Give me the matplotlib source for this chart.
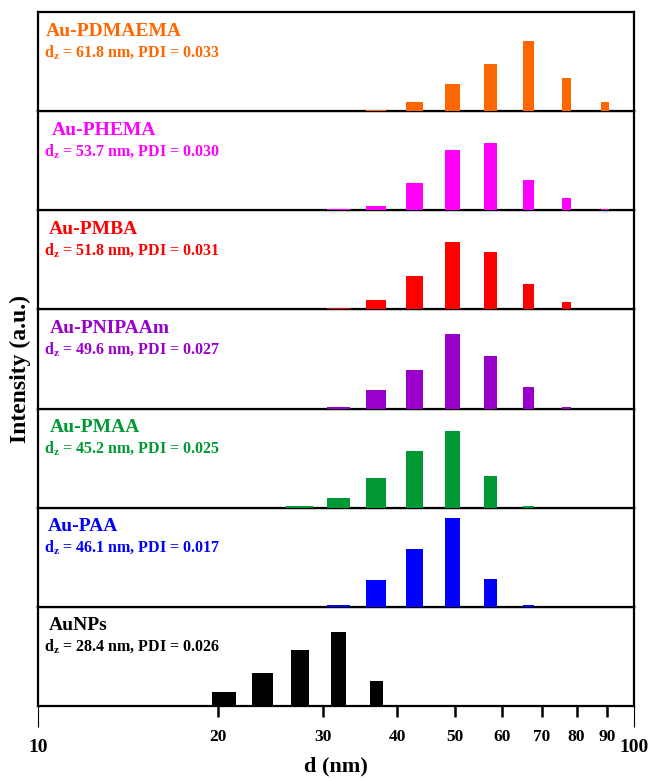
import numpy as np
import matplotlib
matplotlib.use('Agg')
import matplotlib.pyplot as plt

plt.rcParams['font.family'] = ['Liberation Serif', 'DejaVu Serif']
plt.rcParams['font.weight'] = 'bold'
plt.rcParams['mathtext.fontset'] = 'custom'
plt.rcParams['mathtext.rm'] = 'Liberation Serif:bold'
plt.rcParams['mathtext.bf'] = 'Liberation Serif:bold'
plt.rcParams['mathtext.it'] = 'Liberation Serif:bold'

# DLS size bins (nm)
d_bins = [20.5, 23.8, 27.5, 31.9, 36.9, 42.8, 49.6, 57.4, 66.5, 77.0, 89.2]

# intensity (%) per bin, bottom panel first
aunps = [6.7, 16.5, 27.7, 36.7, 12.2, 0, 0, 0, 0, 0, 0]
au_paa = [0, 0, 0, 0.9, 13.3, 29.0, 44.2, 13.7, 0.9, 0, 0]
au_pmaa = [0, 0, 0.9, 5.0, 14.8, 28.2, 38.3, 16.0, 0.9, 0, 0]
au_pnipaam = [0, 0, 0, 0.9, 9.3, 19.2, 37.0, 26.3, 11.0, 0.9, 0]
au_pmba = [0, 0, 0, 0.9, 4.5, 16.5, 33.7, 28.7, 12.8, 3.7, 0]
au_phema = [0, 0, 0, 0.9, 2.0, 13.8, 30.0, 33.8, 15.2, 6.0, 0.9]
au_pdmaema = [0, 0, 0, 0, 0.9, 4.7, 13.5, 23.7, 35.3, 16.7, 4.8]

names = ['AuNPs', 'Au-PAA', 'Au-PMAA', 'Au-PNIPAAm', 'Au-PMBA', 'Au-PHEMA', 'Au-PDMAEMA']
dz = [28.4, 46.1, 45.2, 49.6, 51.8, 53.7, 61.8]
pdi = ['0.026', '0.017', '0.025', '0.027', '0.031', '0.030', '0.033']
series = [aunps, au_paa, au_pmaa, au_pnipaam, au_pmba, au_phema, au_pdmaema]

colors = ['#000000', '#0000FF', '#009933', '#9900CC', '#FF0000', '#FF00FF', '#FF6600']
widths = [1.86, 2.85, 2.85, 2.85, 2.85, 2.85, 2.85]
name_x = [0.017, 0.016, 0.019, 0.019, 0.017, 0.022, 0.013]

fig = plt.figure(figsize=(6.51, 7.80), dpi=100)
left, width = 38.3 / 651, 596 / 651
bottom0 = 1 - 705.7 / 780
ph = 99.06 / 780

for i, (vals, name) in enumerate(zip(series, names)):
    ax = fig.add_axes([left, bottom0 + i * ph, width, ph])
    x = [d for d, v in zip(d_bins, vals) if v > 0]
    h = [v for v in vals if v > 0]
    # bars drawn over the bottom frame line, as in the original
    ax.bar(x, h, width=widths[i], color=colors[i], linewidth=0, zorder=4,
           clip_on=False)
    ax.set_xscale('log')
    ax.set_xlim(10, 100)
    ax.set_ylim(0, 49.5)
    ax.set_yticks([])
    for sp in ax.spines.values():
        sp.set_linewidth(1.6)
        sp.set_zorder(3)
    ax.text(name_x[i], 0.895, name, transform=ax.transAxes, color=colors[i],
            fontsize=14, fontweight='bold', va='top', ha='left')
    ax.text(0.01, 0.69, r'd$_{\mathrm{z}}$ = %.1f nm, PDI = %s' % (dz[i], pdi[i]),
            transform=ax.transAxes, color=colors[i], fontsize=11.5,
            fontweight='bold', va='top', ha='left')
    if i == 0:
        ax.set_xticks([10, 100])
        ax.set_xticklabels(['10', '100'], fontsize=14, fontweight='bold')
        ax.set_xticks([20, 30, 40, 50, 60, 70, 80, 90], minor=True)
        ax.set_xticklabels(['20', '30', '40', '50', '60', '70', '80', '90'],
                           minor=True, fontsize=12.5, fontweight='bold')
        ax.tick_params(axis='x', which='major', direction='out', length=15,
                       width=0.8, pad=9)
        ax.tick_params(axis='x', which='minor', direction='out', length=8,
                       width=1.8, pad=9)
        ax.set_xlabel('d (nm)', fontsize=16, fontweight='bold', labelpad=0)
    else:
        ax.set_xticks([])
        ax.set_xticks([], minor=True)

fig.text(0.031, 0.527, 'Intensity (a.u.)', rotation=90, fontsize=17,
         fontweight='bold', ha='center', va='center')

fig.savefig('out.png', dpi=100)
